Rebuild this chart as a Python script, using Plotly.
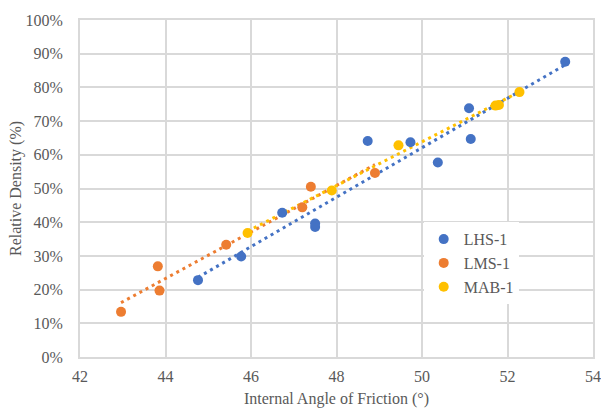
import numpy as np
import plotly.graph_objects as go

lhs_x = [44.76, 45.77, 46.73, 47.5, 47.5, 48.73, 49.73, 50.37, 51.1, 51.14, 53.35]
lhs_y = [22.8, 29.8, 42.8, 38.6, 39.6, 64.1, 63.7, 57.7, 73.8, 64.7, 87.6]
lms_x = [42.96, 43.82, 43.86, 45.42, 47.2, 47.4, 48.9]
lms_y = [13.4, 26.9, 19.7, 33.3, 44.4, 50.5, 54.6]
mab_x = [45.92, 47.89, 49.45, 51.72, 51.8, 52.28]
mab_y = [36.8, 49.4, 62.8, 74.6, 74.8, 78.6]

series = [("LHS-1", lhs_x, lhs_y, "#4472C4"),
          ("LMS-1", lms_x, lms_y, "#ED7D31"),
          ("MAB-1", mab_x, mab_y, "#FFC000")]

fig = go.Figure()
# trendlines (linear regression, dotted)
for name, xs, ys, c in series:
    m, b = np.polyfit(xs, ys, 1)
    tx = np.array([min(xs), max(xs)])
    fig.add_trace(go.Scatter(x=tx, y=(m * tx + b) / 100, mode="lines",
                             line=dict(color=c, width=3, dash="3px,4px"),
                             showlegend=False, hoverinfo="skip"))
for name, xs, ys, c in series:
    fig.add_trace(go.Scatter(x=xs, y=np.array(ys) / 100, mode="markers", name=name,
                             marker=dict(color=c, size=10)))

grid = "#d9d9d9"
serif = "Times New Roman, Liberation Serif, DejaVu Serif, serif"
fig.update_layout(
    width=601, height=408,
    margin=dict(l=80, r=8, t=20, b=51, autoexpand=False),
    paper_bgcolor="white", plot_bgcolor="white",
    font=dict(family=serif, size=16, color="#595959"),
    legend=dict(x=0.67, y=0.40, xanchor="left", yanchor="top",
                bgcolor="white", font=dict(family=serif, size=16, color="#595959"),
                itemwidth=30, tracegroupgap=0),
    xaxis=dict(range=[42, 54], dtick=2, showgrid=True, gridcolor=grid, gridwidth=2,
               showline=True, linecolor=grid, linewidth=2, mirror=True, zeroline=False,
               ticks="", ticklabelstandoff=4, automargin=False,
               tickfont=dict(family=serif, size=16),
               title=dict(text="Internal Angle of Friction (°)", standoff=13,
                          font=dict(family=serif, size=16))),
    yaxis=dict(range=[0, 1], dtick=0.1, tickformat=".0%", showgrid=True, gridcolor=grid,
               gridwidth=2, showline=True, linecolor=grid, linewidth=2, mirror=True,
               zeroline=False, ticks="", ticklabelstandoff=12, automargin=False,
               tickfont=dict(family=serif, size=16),
               title=dict(text="Relative Density (%)", standoff=0,
                          font=dict(family=serif, size=16))),
)
fig.write_html("out.html")
